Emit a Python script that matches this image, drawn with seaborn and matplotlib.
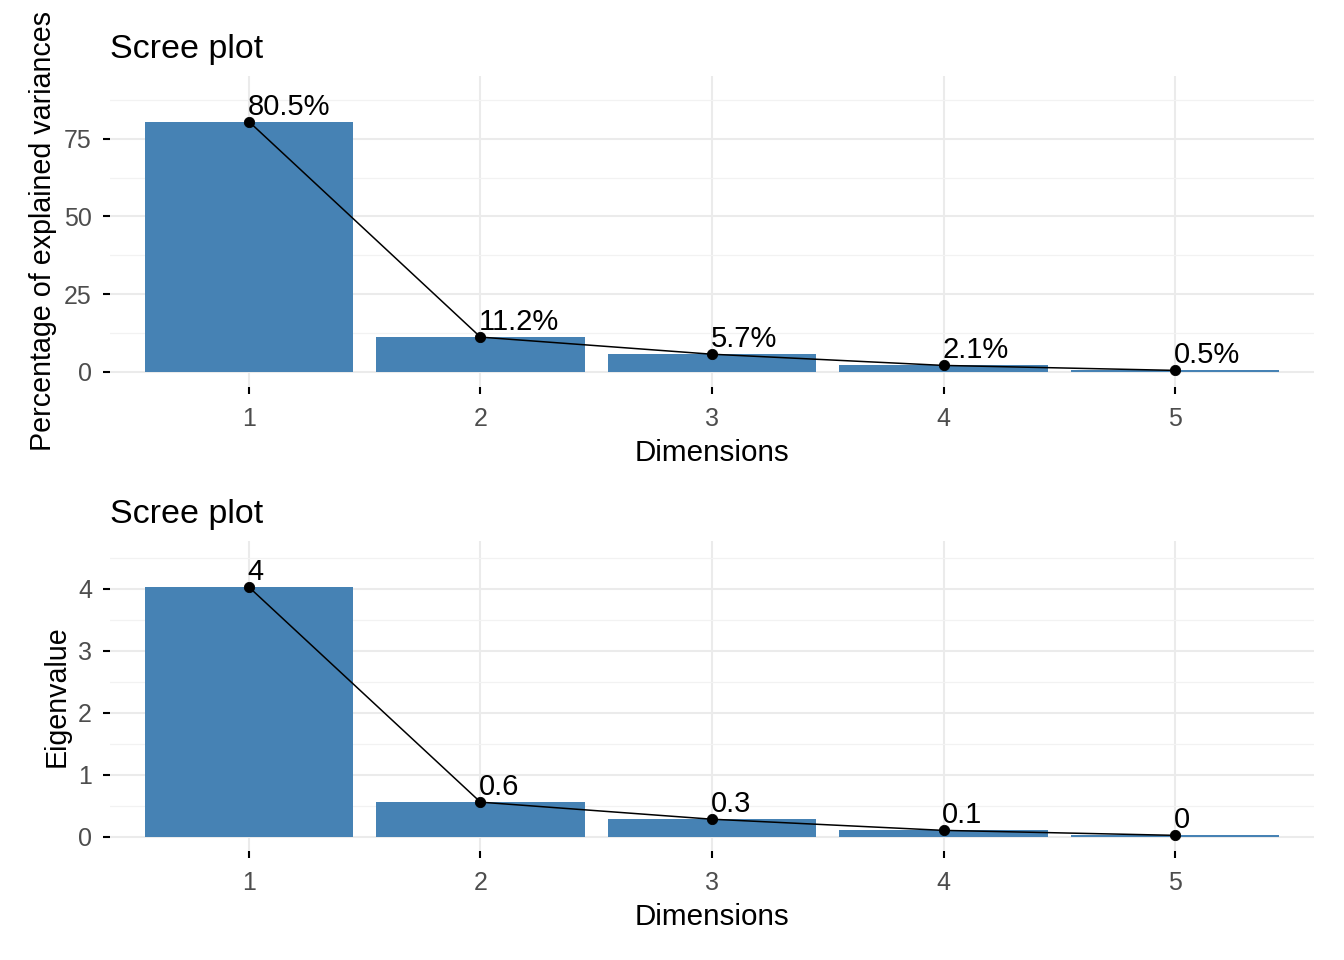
import seaborn as sns
import matplotlib.pyplot as plt
from matplotlib.ticker import MultipleLocator

# PCA scree values
dims = [1, 2, 3, 4, 5]
pct_var = [80.5, 11.2, 5.7, 2.1, 0.5]
eigen = [4.025, 0.56, 0.285, 0.105, 0.025]
pct_labels = [f"{v:.1f}%" for v in pct_var]
eig_labels = [f"{round(v, 1):g}" for v in eigen]

sns.set_theme(style="whitegrid")
plt.rcParams['font.family'] = ['Liberation Sans', 'DejaVu Sans']

fig = plt.figure(figsize=(13.44, 9.6), dpi=100)
ax1 = fig.add_axes([0.0818, 0.597, 0.896, 0.324])
ax2 = fig.add_axes([0.0818, 0.114, 0.896, 0.322])


def scree(ax, vals, labels, ylab, ylim, major, minor):
    sns.barplot(x=dims, y=vals, color="#4682B4", width=0.9, native_scale=True,
                saturation=1, linewidth=0, ax=ax)
    sns.lineplot(x=dims, y=vals, color="black", lw=1.1, ax=ax)
    sns.scatterplot(x=dims, y=vals, color="black", s=55, edgecolor="black", zorder=5, ax=ax)
    for x, y, lab in zip(dims, vals, labels):
        ax.annotate(lab, (x, y), xytext=(-1, 5), textcoords="offset points",
                    ha="left", va="baseline", fontsize=21, color="black")
    ax.set_xlim(0.4, 5.6)
    ax.set_ylim(*ylim)
    ax.set_xticks(dims)
    ax.yaxis.set_major_locator(MultipleLocator(major))
    ax.yaxis.set_minor_locator(MultipleLocator(minor))
    ax.grid(which="major", color="#EBEBEB", lw=1.5)
    ax.grid(which="minor", axis="y", color="#F2F2F2", lw=0.9)
    ax.set_axisbelow(True)
    for s in ax.spines.values():
        s.set_visible(False)
    ax.tick_params(axis="both", which="major", length=5, width=1.5, color="black",
                   labelsize=18, labelcolor="#4D4D4D", pad=8, bottom=True, left=True)
    ax.tick_params(axis="x", pad=9.5)
    ax.tick_params(which="minor", length=0)
    ax.set_xlabel("Dimensions", fontsize=21.3, color="black", labelpad=6)
    ax.set_ylabel(ylab, fontsize=20.6, color="black", labelpad=5)
    ax.set_title("Scree plot", fontsize=24.5, loc="left", pad=13, color="black")


scree(ax1, pct_var, pct_labels, "Percentage of explained variances", (-4.8, 95.2), 25, 12.5)
scree(ax2, eigen, eig_labels, "Eigenvalue", (-0.22, 4.76), 1, 0.5)

plt.savefig("out.png", dpi=100)
